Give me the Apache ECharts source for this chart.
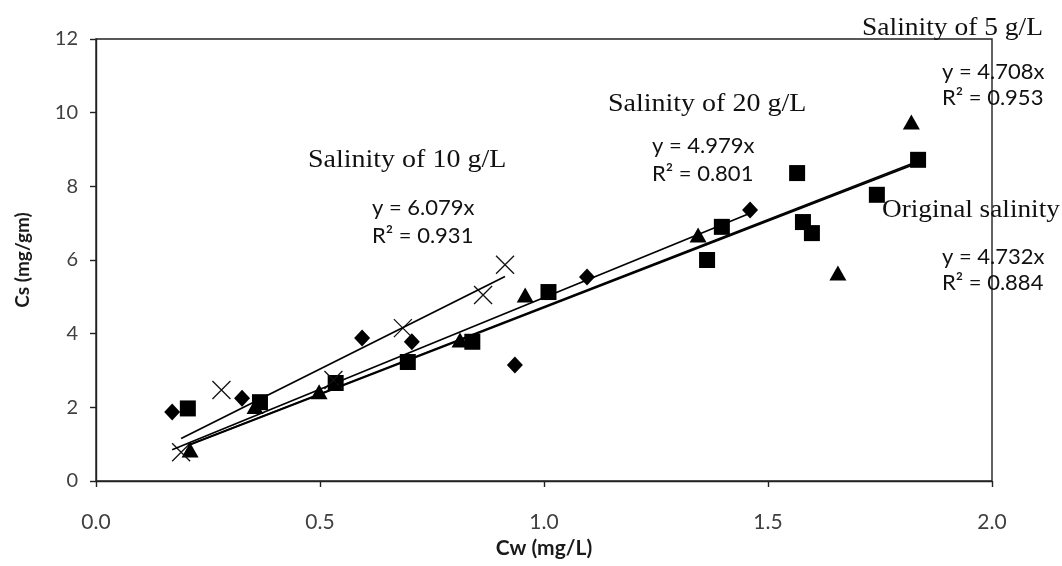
<!DOCTYPE html>
<html>
<head>
<meta charset="utf-8">
<script src="https://cdn.jsdelivr.net/npm/echarts@6/dist/echarts.min.js"></script>
<style>html,body{margin:0;padding:0;background:#fff}#c{width:1062px;height:566px}</style>
</head>
<body>
<div id="c"></div>
<script>
// Data
const xTicks = [0, 0.5, 1.0, 1.5, 2.0];
const yTicks = [0, 2, 4, 6, 8, 10, 12];
const seriesNames = ['Salinity of 20 g/L', 'Original salinity', 'Salinity of 5 g/L', 'Salinity of 10 g/L'];
const sal20 = [[0.17,1.87],[0.326,2.25],[0.594,3.88],[0.705,3.78],[0.935,3.15],[1.096,5.54],[1.46,7.36]];
const salOrig = [[0.205,1.97],[0.366,2.14],[0.535,2.66],[0.696,3.23],[0.84,3.78],[1.01,5.13],[1.364,6.0],[1.397,6.9],[1.565,8.36],[1.578,7.03],[1.598,6.73],[1.743,7.77],[1.835,8.72]];
const sal5 = [[0.21,0.84],[0.355,2.02],[0.498,2.42],[0.8125,3.83],[0.958,5.05],[1.344,6.68],[1.656,5.65],[1.82,9.75]];
const sal10 = [[0.19,0.78],[0.28,2.47],[0.53,2.74],[0.685,4.15],[0.864,5.05],[0.913,5.87]];
const slopes = [4.979, 4.732, 4.708, 6.079];
const r2 = ['0.801', '0.884', '0.953', '0.931'];

const allData = [sal20, salOrig, sal5, sal10];
const symbols = ['diamond', 'rect', 'triangle', 'path://M0,0L10,10M10,0L0,10'];
const sizes = [[16, 17], 16, [17, 15], 18];

function trend(data, k) {
  const xs = data.map(d => d[0]);
  const a = Math.min(...xs), b = Math.max(...xs);
  return [[a, k * a], [b, k * b]];
}

const series = [];
allData.forEach((d, i) => {
  const isX = i === 3;
  series.push({
    type: 'scatter', name: seriesNames[i], data: d, symbol: symbols[i], symbolSize: sizes[i],
    itemStyle: isX ? {color: 'rgba(0,0,0,0)', borderColor: '#111', borderWidth: 1.3, opacity: 1}
                   : {color: '#000', opacity: 1},
    z: 3
  });
});
allData.forEach((d, i) => {
  series.push({
    type: 'line', data: trend(d, slopes[i]), showSymbol: false, symbol: 'none',
    lineStyle: {color: '#000', width: 1.7}, z: 4, silent: true
  });
});

const serif = '25px "Liberation Serif", "Times New Roman", serif';
const sans = '22px Lato, "Open Sans", sans-serif';
function txt(t, x, y, font, sx) {
  return {type: 'text', x: x, y: y, scaleX: sx || 1, z: 10,
    style: {text: t, font: font, fill: '#111', textVerticalAlign: 'middle'}};
}
const eq = (i) => 'y = ' + slopes[i].toFixed(3) + 'x';
const rr = (i) => 'R² = ' + r2[i];

const chart = echarts.init(document.getElementById('c'), null, {renderer: 'canvas'});
chart.setOption({
  backgroundColor: '#fff',
  animation: false,
  grid: {left: 96, right: 70, top: 39, bottom: 85, show: true, borderColor: '#222', borderWidth: 1.4, backgroundColor: 'transparent'},
  xAxis: {
    type: 'value', min: xTicks[0], max: xTicks[xTicks.length - 1], interval: 0.5,
    name: 'Cw (mg/L)', nameLocation: 'middle', nameGap: 57,
    nameTextStyle: {fontFamily: 'Lato', fontWeight: 'bold', fontSize: 21, color: '#1a1a1a'},
    axisLine: {show: true, onZero: false, lineStyle: {color: '#222', width: 1.4}},
    axisTick: {show: true, inside: false, length: 6, lineStyle: {color: '#222', width: 1.4}},
    axisLabel: {margin: 31, fontFamily: 'Lato', fontSize: 21, color: '#404040', formatter: v => v.toFixed(1)},
    splitLine: {show: false}
  },
  yAxis: {
    type: 'value', min: yTicks[0], max: yTicks[yTicks.length - 1], interval: 2,
    name: 'Cs (mg/gm)', nameLocation: 'middle', nameGap: 64,
    nameTextStyle: {fontFamily: 'Lato', fontWeight: 'bold', fontSize: 19, color: '#1a1a1a'},
    axisLine: {show: true, onZero: false, lineStyle: {color: '#222', width: 1.4}},
    axisTick: {show: true, inside: false, length: 6, lineStyle: {color: '#222', width: 1.4}},
    axisLabel: {margin: 18, fontFamily: 'Lato', fontSize: 20, color: '#404040'},
    splitLine: {show: false}
  },
  graphic: [
    txt('Salinity of 10 g/L', 308, 160, serif, 1.12),
    txt(eq(3), 372, 208, sans),
    txt(rr(3), 372, 236, sans),
    txt('Salinity of 20 g/L', 608, 104, serif, 1.12),
    txt(eq(0), 652, 146, sans),
    txt(rr(0), 652, 174, sans),
    txt('Salinity of 5 g/L', 862, 28, serif, 1.1),
    txt(eq(2), 942, 72, sans),
    txt(rr(2), 942, 98, sans),
    txt('Original salinity', 882, 210, serif, 1.09),
    txt(eq(1), 942, 257, sans),
    txt(rr(1), 942, 283, sans)
  ],
  series: series
});
</script>
</body>
</html>
